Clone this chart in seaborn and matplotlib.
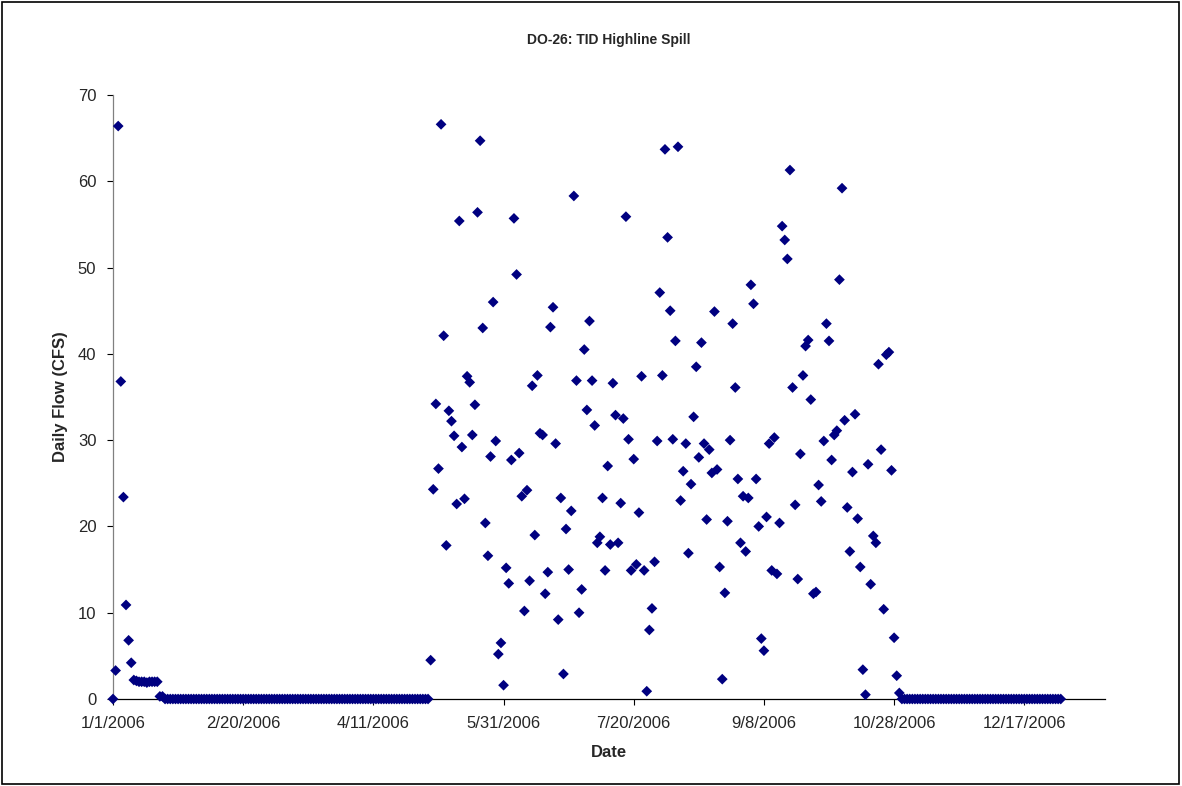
import matplotlib
matplotlib.use("Agg")
import matplotlib.pyplot as plt
from matplotlib.patches import Rectangle
import pandas as pd
import seaborn as sns

# Daily flow in CFS for calendar year 2006, one value per day.
# Early-January release (Jan 1 - Jan 20)
jan_flow = [0.0, 3.3, 66.4, 36.8, 23.4, 10.9, 6.8, 4.2,
            2.2, 2.1, 2.0, 2.0, 2.0, 1.9, 2.0, 2.0, 2.0, 2.0,
            0.3, 0.3]
# No spill Jan 21 - May 2
winter_zero_days = 102
# Spill season May 3 - Oct 30
season_flow = [
    4.5, 24.3, 34.2, 26.7, 66.6, 42.1, 17.8, 33.4, 32.2, 30.5,
    22.6, 55.4, 29.2, 23.2, 37.4, 36.7, 30.6, 34.1, 56.4, 64.7,
    43.0, 20.4, 16.6, 28.1, 46.0, 29.9, 5.2, 6.5, 1.6, 15.2,
    13.4, 27.7, 55.7, 49.2, 28.5, 23.5, 10.2, 24.2, 13.7, 36.3,
    19.0, 37.5, 30.8, 30.6, 12.2, 14.7, 43.1, 45.4, 29.6, 9.2,
    23.3, 2.9, 19.7, 15.0, 21.8, 58.3, 36.9, 10.0, 12.7, 40.5,
    33.5, 43.8, 36.9, 31.7, 18.1, 18.8, 23.3, 14.9, 27.0, 17.9,
    36.6, 32.9, 18.1, 22.7, 32.5, 55.9, 30.1, 14.9, 27.8, 15.6,
    21.6, 37.4, 14.9, 0.9, 8.0, 10.5, 15.9, 29.9, 47.1, 37.5,
    63.7, 53.5, 45.0, 30.1, 41.5, 64.0, 23.0, 26.4, 29.6, 16.9,
    24.9, 32.7, 38.5, 28.0, 41.3, 29.6, 20.8, 28.9, 26.2, 44.9,
    26.6, 15.3, 2.3, 12.3, 20.6, 30.0, 43.5, 36.1, 25.5, 18.1,
    23.5, 17.1, 23.3, 48.0, 45.8, 25.5, 20.0, 7.0, 5.6, 21.1,
    29.6, 14.9, 30.3, 14.5, 20.4, 54.8, 53.2, 51.0, 61.3, 36.1,
    22.5, 13.9, 28.4, 37.5, 40.9, 41.6, 34.7, 12.2, 12.4, 24.8,
    22.9, 29.9, 43.5, 41.5, 27.7, 30.6, 31.1, 48.6, 59.2, 32.3,
    22.2, 17.1, 26.3, 33.0, 20.9, 15.3, 3.4, 0.5, 27.2, 13.3,
    18.9, 18.1, 38.8, 28.9, 10.4, 39.9, 40.2, 26.5, 7.1, 2.7,
    0.7,
]
# No spill Oct 31 - Dec 31
fall_zero_days = 62

tick_dates = ["2006-01-01", "2006-02-20", "2006-04-11", "2006-05-31",
              "2006-07-20", "2006-09-08", "2006-10-28", "2006-12-17"]
y_ticks = [0, 10, 20, 30, 40, 50, 60, 70]

flow = jan_flow + [0.0] * winter_zero_days + season_flow + [0.0] * fall_zero_days
df = pd.DataFrame({
    "Date": pd.date_range("2006-01-01", periods=len(flow), freq="D"),
    "Flow": flow,
})

sns.set_theme(style="white")
plt.rcParams["font.family"] = ["Liberation Sans", "DejaVu Sans"]

fig = plt.figure(figsize=(11.82, 7.86), dpi=100)
ax = fig.add_axes([113 / 1182, 1 - 699 / 786, (1105 - 113) / 1182, (699 - 95) / 786])

sns.scatterplot(data=df, x="Date", y="Flow", ax=ax, marker="D", s=30,
                color="#000080", edgecolor="none", linewidth=0, clip_on=False,
                zorder=3)

ax.set_xlim(pd.Timestamp("2006-01-01"), pd.Timestamp("2006-01-01") + pd.Timedelta(days=381))
ax.set_ylim(0, 70)

ticks = [pd.Timestamp(t) for t in tick_dates]
ax.set_xticks(ticks)
ax.set_xticklabels([f"{t.month}/{t.day}/{t.year}" for t in ticks], fontsize=12)
ax.set_yticks(y_ticks)
ax.set_yticklabels([str(v) for v in y_ticks], fontsize=12)

ax.tick_params(axis="both", direction="out", length=4, width=0.8, color="black",
               bottom=True, left=True)
ax.tick_params(axis="x", pad=8)
ax.tick_params(axis="y", pad=8)
for side in ("top", "right"):
    ax.spines[side].set_visible(False)
ax.spines["left"].set_color("#808080")
ax.spines["bottom"].set_color("black")
for side in ("left", "bottom"):
    ax.spines[side].set_linewidth(0.9)

ax.set_xlabel("Date", fontsize=12, fontweight="bold", labelpad=10)
ax.set_ylabel("Daily Flow (CFS)", fontsize=12, fontweight="bold", labelpad=7)
fig.text(609 / 1182, 1 - 40 / 786, "DO-26: TID Highline Spill", ha="center",
         va="center", fontsize=10, fontweight="bold")

fig.patches.append(Rectangle((0.0015, 0.002), 0.996, 0.996, transform=fig.transFigure,
                             fill=False, edgecolor="black", linewidth=1.2))

fig.savefig("out.png", dpi=100, facecolor="white")
